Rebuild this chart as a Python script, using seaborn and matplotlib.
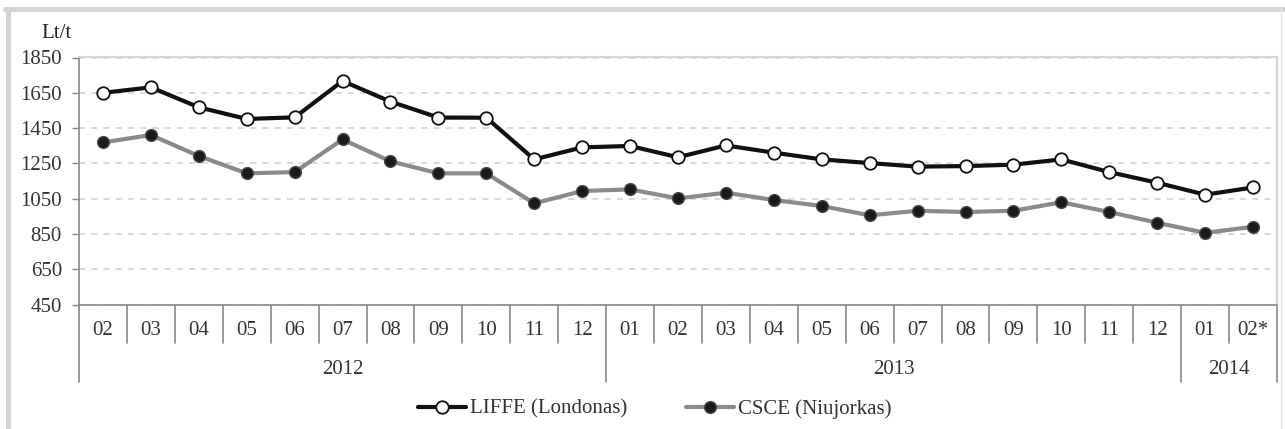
import matplotlib
matplotlib.use('Agg')
import matplotlib.pyplot as plt
from matplotlib.lines import Line2D
import numpy as np
import seaborn as sns

sns.set_style('white')
plt.rcParams['font.family'] = ['Liberation Serif', 'DejaVu Serif']
plt.rcParams['font.size'] = 15
plt.rcParams['text.color'] = '#333333'

# monthly prices, Lt/t
months = ['02', '03', '04', '05', '06', '07', '08', '09', '10', '11', '12',
          '01', '02', '03', '04', '05', '06', '07', '08', '09', '10', '11', '12',
          '01', '02*']
years = ['2012', '2013', '2014']
year_counts = [11, 12, 2]
liffe = [1650, 1681, 1568, 1502, 1511, 1717, 1600, 1510, 1509, 1273, 1341,
         1349, 1285, 1352, 1311, 1273, 1252, 1232, 1235, 1243, 1273, 1201, 1141,
         1073, 1114]
csce = [1369, 1411, 1292, 1194, 1201, 1386, 1262, 1194, 1194, 1024, 1094,
        1103, 1052, 1084, 1043, 1009, 956, 982, 975, 982, 1030, 975, 914,
        857, 891]
label_liffe = 'LIFFE (Londonas)'
label_csce = 'CSCE (Niujorkas)'

x = np.arange(len(months))

fig = plt.figure(figsize=(12.85, 4.29), dpi=100)
ax = fig.add_axes([79 / 1285, 1 - 304.7 / 429, 1198 / 1285, 247.2 / 429])

sns.lineplot(x=x, y=csce, ax=ax, color='#8a8a8a', lw=3.0, marker='o',
             markersize=8.5, markerfacecolor='#1a1a1a', markeredgecolor='#4a4a4a',
             markeredgewidth=1.0, label=label_csce, zorder=3)
sns.lineplot(x=x, y=liffe, ax=ax, color='#111111', lw=3.0, marker='o',
             markersize=9, markerfacecolor='white', markeredgecolor='#111111',
             markeredgewidth=1.3, label=label_liffe, zorder=4)

ax.set_xlim(-0.5, len(months) - 0.5)
ax.set_ylim(450, 1850)
ax.set_yticks(np.arange(450, 1851, 200))
ax.yaxis.grid(True, ls=(0, (4, 4)), color='#d0d0d0', lw=1.1)
ax.xaxis.grid(False)
ax.set_axisbelow(True)

ax.set_xticks(x)
ax.set_xticklabels(months)
ax.tick_params(axis='x', length=0, pad=12, labelcolor='#333333')
ax.tick_params(axis='y', length=5.3, width=1.0, color='#888888', pad=7,
               left=True, labelcolor='#333333')

for side in ['left', 'bottom']:
    ax.spines[side].set_color('#888888')
    ax.spines[side].set_linewidth(1.2)
for side in ['top', 'right']:
    ax.spines[side].set_color('#d6d6d6')
    ax.spines[side].set_linewidth(1.6)

# category separators below the axis
trans = ax.get_xaxis_transform()
year_bounds = [-0.5] + list(np.cumsum(year_counts) - 0.5)
for b in np.arange(-0.5, len(months), 1.0):
    depth = -0.3115 if b in year_bounds else -0.155
    ax.plot([b, b], [0, depth], transform=trans, clip_on=False,
            color='#888888', lw=1.2)

start = -0.5
for yr, n in zip(years, year_counts):
    ax.text(start + n / 2, -0.262, yr, transform=trans, ha='center',
            va='center', color='#333333')
    start += n

ax.set_xlabel('')
ax.set_ylabel('')
fig.text(57 / 1285, 1 - 33 / 429, 'Lt/t', ha='center', va='center',
         color='#222222')

handles, labels = ax.get_legend_handles_labels()
order = [labels.index(label_liffe), labels.index(label_csce)]
ax.legend([handles[i] for i in order], [labels[i] for i in order],
          loc='center', bbox_to_anchor=(655 / 1285, 1 - 409 / 429),
          bbox_transform=fig.transFigure, ncol=2, frameon=False,
          handlelength=2.3, handletextpad=0.2, columnspacing=2.8,
          fontsize=15)

# outer light-grey frame
fig.add_artist(Line2D([7.5 / 1285, 7.5 / 1285], [0, 1 - 9 / 429],
                      color='#d4d4d4', lw=3.6, transform=fig.transFigure))
fig.add_artist(Line2D([5 / 1285, 1283 / 1285], [1 - 9 / 429, 1 - 9 / 429],
                      color='#d4d4d4', lw=3.6, transform=fig.transFigure))
fig.add_artist(Line2D([1281 / 1285, 1281 / 1285], [0, 1 - 9 / 429],
                      color='#e4e4e4', lw=1.0, transform=fig.transFigure))

fig.savefig('out.png', dpi=100)
plt.close()
